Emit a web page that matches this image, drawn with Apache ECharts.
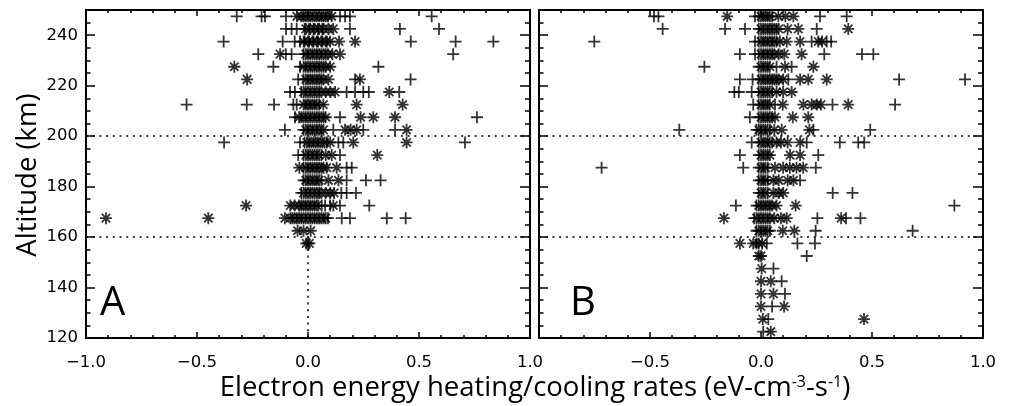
<!DOCTYPE html>
<html><head><meta charset="utf-8">
<script src="https://cdn.jsdelivr.net/npm/echarts/dist/echarts.min.js"></script>
<style>html,body{margin:0;padding:0;background:#fff}#c{width:1010px;height:406px}</style>
</head><body><div id="c"></div>
<script>
// altitude bin centres (km)
const altitudes = [247.5,242.5,237.5,232.5,227.5,222.5,217.5,212.5,207.5,202.5,197.5,192.5,187.5,182.5,177.5,172.5,167.5,162.5,157.5,152.5,147.5,142.5,137.5,132.5,127.5,122.5];

// Panel A, '+' markers: rate values per altitude row
const aPlus = [
 [-0.321,-0.209,-0.194,-0.099,-0.02,0.0,0.02,0.04,0.06,0.08,0.144,0.167,0.189,0.557],
 [-0.099,-0.074,-0.051,-0.015,0.005,0.025,0.045,0.065,0.189,0.414,0.59],
 [-0.38,-0.114,-0.06,-0.036,-0.015,0.005,0.025,0.045,0.065,0.085,0.463,0.665,0.835],
 [-0.224,-0.1,-0.074,-0.02,0.0,0.02,0.04,0.06,0.08,0.654],
 [-0.156,-0.036,-0.01,0.01,0.03,0.05,0.07,0.317],
 [-0.044,-0.02,0.0,0.02,0.04,0.06,0.212,0.462],
 [-0.081,-0.059,-0.03,-0.01,0.01,0.03,0.05,0.174,0.212,0.249,0.274,0.411],
 [-0.547,-0.276,-0.153,-0.066,-0.051,-0.01,0.01,0.03,0.05],
 [-0.059,-0.03,-0.01,0.01,0.03,0.05,0.07,0.144,0.761],
 [-0.104,-0.02,0.0,0.02,0.04,0.06,0.114,0.249,0.392],
 [-0.378,-0.036,-0.015,0.005,0.025,0.045,0.065,0.085,0.137,0.159,0.707],
 [-0.044,-0.02,0.0,0.02,0.04,0.06,0.144],
 [-0.02,0.0,0.02,0.04,0.06,0.174,0.197],
 [-0.02,0.0,0.02,0.04,0.06,0.174,0.261,0.327],
 [-0.03,-0.01,0.01,0.03,0.05,0.15,0.174,0.216],
 [-0.03,-0.01,0.01,0.03,0.047,0.062,0.077,0.1,0.144,0.276],
 [-0.07,-0.05,-0.03,-0.01,0.01,0.03,0.05,0.07,0.09,0.152,0.189,0.355,0.44],
 [],
 [0.0],
 [],[],[],[],[],[],[]
];
// Panel A, '*' markers
const aStar = [
 [-0.05,-0.03,-0.01,0.01,0.03,0.05,0.07,0.09,0.107],
 [-0.01,0.01,0.03,0.05,0.07,0.092,0.114],
 [-0.02,0.0,0.02,0.04,0.06,0.08,0.1,0.14,0.212],
 [-0.126,-0.01,0.01,0.03,0.05,0.07,0.09,0.11,0.144],
 [-0.332,-0.02,0.0,0.02,0.04,0.06,0.08,0.1],
 [-0.274,-0.01,0.01,0.03,0.05,0.07,0.092,0.234],
 [-0.02,0.0,0.02,0.04,0.06,0.08,0.1,0.122,0.366],
 [-0.02,0.0,0.02,0.04,0.069,0.219,0.426],
 [-0.04,-0.02,0.0,0.02,0.04,0.06,0.08,0.237,0.294,0.392],
 [-0.01,0.01,0.03,0.05,0.07,0.167,0.192,0.219,0.444],
 [-0.005,0.015,0.035,0.055,0.075,0.1,0.204,0.444],
 [-0.01,0.01,0.03,0.05,0.08,0.107,0.312],
 [-0.039,-0.01,0.01,0.03,0.05,0.07,0.084,0.129],
 [-0.01,0.01,0.03,0.05,0.092,0.137],
 [-0.02,0.0,0.02,0.04,0.06,0.08,0.1,0.118],
 [-0.279,-0.08,-0.06,-0.04,-0.02,0.0,0.02,0.04,0.114],
 [-0.91,-0.449,-0.104,-0.08,-0.06,-0.04,-0.02,0.0,0.02,0.04,0.06,0.08],
 [-0.047,-0.02,0.012],
 [-0.008,0.006],
 [],[],[],[],[],[],[]
];
// Panel B, '+' markers
const bPlus = [
 [-0.482,-0.462,-0.027,-0.01,0.01,0.03,0.05,0.266,0.386],
 [-0.443,-0.162,-0.072,-0.01,0.01,0.03,0.05,0.07,0.251],
 [-0.751,-0.027,-0.01,0.01,0.03,0.05,0.07,0.228,0.296,0.316],
 [-0.095,-0.027,-0.01,0.01,0.03,0.05,0.285,0.455,0.506],
 [-0.255,-0.01,0.01,0.03,0.07,0.138],
 [-0.095,-0.038,-0.01,0.01,0.03,0.05,0.07,0.123,0.622,0.919],
 [-0.12,-0.1,-0.042,-0.01,0.01,0.03,0.05],
 [-0.035,-0.01,0.01,0.03,0.063,0.322,0.604],
 [-0.05,-0.01,0.01,0.03,0.05],
 [-0.368,-0.02,0.0,0.02,0.04,0.236,0.492],
 [-0.042,-0.01,0.01,0.03,0.05,0.206,0.355,0.438,0.465],
 [-0.095,-0.01,0.01,0.03,0.258],
 [-0.718,-0.08,-0.01,0.01,0.03,0.247],
 [-0.01,0.01,0.03,0.176],
 [-0.01,0.01,0.03,0.323,0.412],
 [-0.113,-0.02,0.0,0.02,0.04,0.871],
 [-0.03,-0.01,0.01,0.03,0.254,0.383,0.448],
 [-0.02,0.0,0.02,0.04,0.246,0.683],
 [-0.02,0.026,0.164,0.243],
 [0.206],
 [0.056],
 [0.093],
 [0.108],
 [0.05],
 [0.033],
 [0.01]
];
// Panel B, '*' markers
const bStar = [
 [-0.152,0.0,0.02,0.04,0.078,0.11,0.146],
 [0.0,0.02,0.04,0.06,0.08,0.12,0.168,0.393],
 [0.0,0.02,0.04,0.06,0.085,0.116,0.176,0.258,0.275],
 [0.0,0.02,0.04,0.06,0.08,0.105,0.183],
 [0.0,0.02,0.04,0.108,0.236],
 [0.0,0.02,0.04,0.06,0.08,0.1,0.176,0.213,0.296],
 [0.0,0.02,0.04,0.07,0.1,0.138],
 [0.0,0.02,0.04,0.098,0.191,0.228,0.251,0.27,0.393],
 [0.0,0.02,0.04,0.063,0.143,0.213],
 [-0.01,0.01,0.03,0.06,0.093,0.218],
 [0.0,0.02,0.04,0.07,0.09,0.12,0.176],
 [0.0,0.02,0.04,0.131,0.176],
 [0.0,0.02,0.063,0.1,0.13,0.16,0.19],
 [0.0,0.02,0.056,0.08,0.12,0.146],
 [0.0,0.02,0.056,0.08,0.1],
 [-0.01,0.01,0.03,0.05,0.07,0.156],
 [-0.167,-0.02,0.0,0.02,0.04,0.06,0.09,0.116,0.361],
 [-0.01,0.01,0.03,0.098,0.15],
 [-0.095,-0.035,-0.01,0.005],
 [-0.01,0.0],
 [0.003],
 [0.0,0.044],
 [0.0,0.056],
 [0.0,0.104],
 [0.008,0.464],
 [0.044]
];

// reference lines
const hLines = [200, 160];
const vLineA = [[0, 120], [0, 160]];
const panelLabels = ['A', 'B'];

function toPoints(rows) {
  const out = [];
  rows.forEach((vals, i) => vals.forEach(v => out.push([v, altitudes[i]])));
  return out;
}

const PLUS = 'path://M0,5L10,5M5,0L5,10';
const STAR = 'path://M0,5L10,5M5,0L5,10M1.5,1.5L8.5,8.5M8.5,1.5L1.5,8.5';
const markStyle = {color: 'rgba(0,0,0,0)', borderColor: '#000', borderWidth: 1.8};
const dotted = {color: '#000', width: 1.6, type: [2, 4.7]};

const fmtX = v => (v < 0 ? '\u2212' : '') + Math.abs(v).toFixed(1);
const lblFont = {color: '#000', fontFamily: 'DejaVu Sans', fontSize: 16.5};

const grids = [
  {left: 86, right: 480, top: 10, bottom: 68},
  {left: 539, right: 27, top: 10, bottom: 68}
];

const xAxes = [], yAxes = [];
grids.forEach((g, gi) => {
  const line = {show: true, onZero: false, lineStyle: {color: '#000', width: 2}};
  const base = {gridIndex: gi, type: 'value', min: -1, max: 1, interval: 0.5,
    axisLine: line, splitLine: {show: false}, minorSplitLine: {show: false},
    axisTick: {show: true, inside: true, length: 6, lineStyle: {color: '#000', width: 1.5}},
    minorTick: {show: true, splitNumber: 5, length: 3, lineStyle: {color: '#000', width: 1.5}}};
  xAxes.push(Object.assign({}, base, {position: 'bottom',
    axisLabel: Object.assign({show: true, margin: 16, formatter: fmtX, showMinLabel: gi === 0}, lblFont)}));
  xAxes.push(Object.assign({}, base, {position: 'top', axisLabel: {show: false}}));
  const yb = {gridIndex: gi, type: 'value', min: 120, max: 250, axisLine: line, splitLine: {show: false}};
  yAxes.push(Object.assign({}, yb, {position: 'left', interval: 20,
    axisTick: {show: true, inside: true, length: 9, lineStyle: {color: '#000', width: 1.5}},
    axisLabel: Object.assign({show: gi === 0, margin: 8, showMaxLabel: false}, lblFont)}));
  yAxes.push(Object.assign({}, yb, {position: 'left', interval: 5,
    axisTick: {show: true, inside: true, length: 4.5, lineStyle: {color: '#000', width: 1.5}},
    axisLabel: {show: false}}));
  yAxes.push(Object.assign({}, yb, {position: 'right', interval: 20,
    axisTick: {show: true, inside: true, length: 10, lineStyle: {color: '#000', width: 1.5}},
    axisLabel: {show: false}}));
  yAxes.push(Object.assign({}, yb, {position: 'right', interval: 5,
    axisTick: {show: true, inside: true, length: 5, lineStyle: {color: '#000', width: 1.5}},
    axisLabel: {show: false}}));
});

function refLines(withVertical) {
  const data = hLines.map(h => ({yAxis: h}));
  if (withVertical) data.push([{coord: vLineA[0]}, {coord: vLineA[1]}]);
  return {silent: true, symbol: ['none', 'none'], label: {show: false}, lineStyle: dotted,
    emphasis: {disabled: true}, animation: false, data: data};
}

function sc(gi, sym, rows, ml) {
  const s = {type: 'scatter', xAxisIndex: gi * 2, yAxisIndex: gi * 4, symbol: sym, symbolSize: 12,
    itemStyle: markStyle, data: toPoints(rows), animation: false, silent: true};
  if (ml) s.markLine = ml;
  return s;
}

const series = [
  sc(0, PLUS, aPlus, refLines(true)),
  sc(0, STAR, aStar),
  sc(1, PLUS, bPlus, refLines(false)),
  sc(1, STAR, bStar)
];

const titleFont = 'Open Sans';
const graphic = [
  {type: 'text', left: 100, top: 284, style: {text: panelLabels[0], fill: '#000', font: '40px "Open Sans"'}},
  {type: 'text', left: 570, top: 284, style: {text: panelLabels[1], fill: '#000', font: '40px "Open Sans"'}},
  {type: 'text', x: 28, y: 175, rotation: Math.PI / 2,
    style: {text: 'Altitude (km)', fill: '#000', font: '27.5px "Open Sans"', align: 'center', verticalAlign: 'middle'}},
  {type: 'text', x: 535, y: 388,
    style: {text: 'Electron energy heating/cooling rates (eV-cm{sup|-3}-s{sup|-1})', fill: '#000',
      fontFamily: titleFont, fontSize: 27.5, align: 'center', verticalAlign: 'middle',
      rich: {sup: {fontFamily: titleFont, fontSize: 16, verticalAlign: 'top', lineHeight: 18, fill: '#000'}}}}
];

const chart = echarts.init(document.getElementById('c'), null, {renderer: 'canvas'});
chart.setOption({
  animation: false,
  backgroundColor: '#fff',
  grid: grids,
  xAxis: xAxes,
  yAxis: yAxes,
  series: series,
  graphic: graphic
});
</script></body></html>
